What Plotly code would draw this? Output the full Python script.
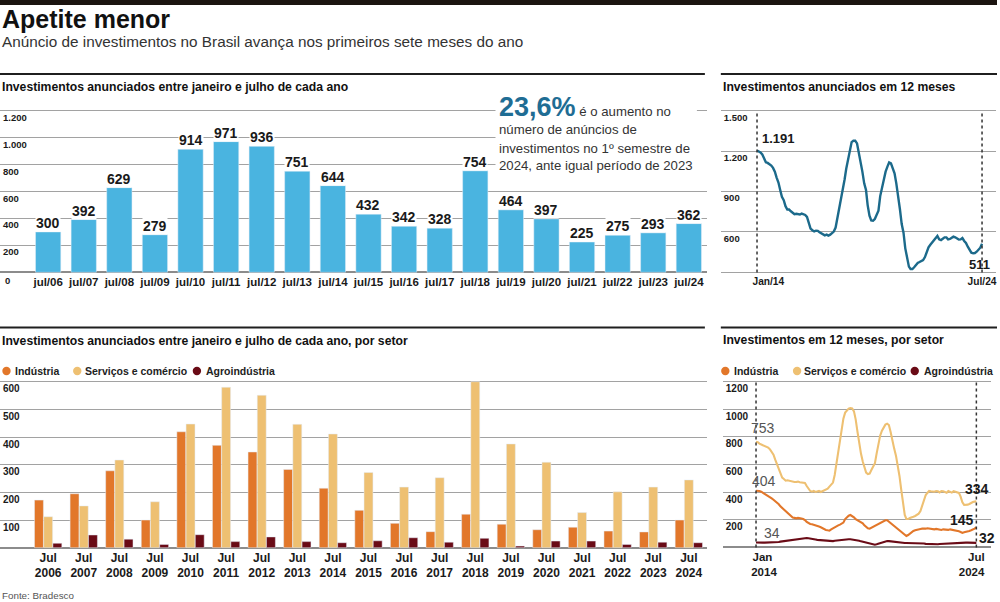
import plotly.graph_objects as go
import pandas as pd

W, H = 1000, 602
NARROW = "Liberation Sans"
SANS = "Liberation Sans"
NB = "\u00a0"

# ---------------- data ----------------
rotulos_ano = ["jul/06", "jul/07", "jul/08", "jul/09", "jul/10", "jul/11", "jul/12",
               "jul/13", "jul/14", "jul/15", "jul/16", "jul/17", "jul/18", "jul/19",
               "jul/20", "jul/21", "jul/22", "jul/23", "jul/24"]
total = [300, 392, 629, 279, 914, 971, 936, 751, 644, 432, 342, 328, 754, 464, 397, 225, 275, 293, 362]

rotulos_setor = ["Jul<br>2006", "Jul<br>2007", "Jul<br>2008", "Jul<br>2009", "Jul<br>2010",
                 "Jul<br>2011", "Jul<br>2012", "Jul<br>2013", "Jul<br>2014", "Jul<br>2015",
                 "Jul<br>2016", "Jul<br>2017", "Jul<br>2018", "Jul<br>2019", "Jul<br>2020",
                 "Jul<br>2021", "Jul<br>2022", "Jul<br>2023", "Jul<br>2024"]
industria = [172, 195, 278, 100, 419, 370, 346, 283, 215, 135, 88, 58, 121, 85, 65, 74, 60, 57, 100]
servicos = [112, 151, 317, 166, 447, 580, 551, 446, 411, 272, 219, 253, 600, 375, 309, 127, 202, 219, 245]
agro = [16, 46, 31, 12, 47, 22, 39, 22, 18, 25, 36, 20, 34, 6, 24, 24, 12, 20, 18]

meses = pd.date_range("2014-01-01", "2024-07-01", freq="MS")

anunciados_12m = [
    1205, 1200, 1190, 1175, 1152, 1117, 1112, 1104, 1092, 1075,
    1047, 1003, 966, 909, 859, 834, 790, 765, 765, 752,
    740, 730, 733, 728, 728, 735, 730, 725, 710, 661,
    623, 611, 603, 608, 606, 596, 586, 576, 573, 578,
    571, 578, 588, 601, 631, 698, 780, 840, 919, 989,
    1068, 1137, 1212, 1267, 1277, 1277, 1257, 1195, 1129, 1047,
    960, 910, 798, 719, 684, 682, 694, 728, 756, 865,
    930, 984, 1047, 1084, 1116, 1109, 1071, 1034, 960, 873,
    767, 657, 593, 476, 394, 340, 322, 322, 335, 352,
    367, 374, 379, 389, 411, 451, 483, 503, 518, 533,
    555, 568, 543, 538, 548, 558, 558, 543, 546, 555,
    563, 558, 548, 541, 543, 553, 531, 516, 488, 464,
    444, 439, 441, 451, 466, 481, 511]

servicos_12m = [
    765, 761, 751, 746, 741, 732, 727, 722, 710, 691,
    671, 635, 599, 565, 529, 505, 495, 483, 486, 483,
    476, 478, 473, 473, 476, 471, 469, 471, 466, 444,
    423, 408, 403, 408, 401, 406, 408, 401, 406, 411,
    415, 425, 440, 452, 469, 524, 609, 700, 782, 869,
    932, 976, 995, 1005, 1009, 1007, 985, 927, 838, 753,
    679, 621, 572, 541, 531, 534, 560, 582, 609, 681,
    753, 809, 845, 869, 889, 896, 886, 833, 766, 715,
    664, 597, 517, 420, 312, 234, 205, 205, 213, 220,
    222, 227, 234, 244, 263, 299, 348, 379, 394, 408,
    406, 403, 403, 408, 406, 398, 408, 406, 401, 396,
    408, 401, 396, 406, 403, 401, 394, 367, 326, 307,
    307, 309, 314, 324, 328, 331, 334]

industria_12m = [
    410, 411, 408, 403, 396, 386, 377, 372, 365, 355,
    345, 336, 326, 312, 297, 285, 273, 258, 246, 234,
    225, 215, 213, 210, 213, 213, 208, 205, 198, 184,
    176, 169, 167, 164, 159, 157, 150, 145, 138, 130,
    126, 123, 121, 130, 138, 147, 155, 159, 164, 169,
    179, 205, 220, 229, 234, 227, 217, 203, 196, 191,
    184, 174, 159, 147, 138, 135, 142, 147, 155, 162,
    169, 176, 181, 188, 196, 196, 186, 169, 159, 150,
    140, 130, 121, 109, 99, 92, 82, 89, 101, 111,
    118, 123, 128, 130, 133, 135, 133, 135, 138, 135,
    133, 130, 130, 133, 130, 126, 126, 130, 128, 123,
    126, 130, 128, 126, 123, 121, 116, 111, 104, 109,
    111, 116, 118, 123, 128, 135, 145]

agro_12m = [
    35, 36, 36, 35, 34, 34,
    34, 34, 34, 35, 34, 34, 36, 38, 41, 43, 44, 46, 50, 51, 53,
    55, 58, 60, 62, 63, 65, 67, 68, 67, 65, 64, 63, 58, 56, 54,
    53, 50, 48, 46, 44, 43, 43, 44, 45, 48, 50, 51, 51, 53, 53,
    55, 57, 58, 58, 57, 56, 53, 51, 48, 43, 40, 36, 31, 28, 26,
    24, 21, 19, 22, 26, 31, 36, 39, 41, 46, 45, 43, 41, 38, 36,
    34, 34, 34, 31, 31, 31, 31, 29, 29, 29, 29, 29, 29, 28, 27,
    27, 25, 24, 24, 23, 22, 22, 22, 22, 24, 25, 27, 27, 28, 29,
    29, 30, 31, 31, 31, 31, 31, 32, 34, 34, 34, 33, 33, 33, 33,
    32]

ticks_12m = [300, 600, 900, 1200, 1500]
ticks_12m_txt = ["", "600", "900", "1.200", "1.500"]
ticks_total = [0, 200, 400, 600, 800, 1000, 1200]
ticks_total_txt = ["", "200", "400", "600", "800", "1.000", "1.200"]
ticks_setor = [0, 100, 200, 300, 400, 500, 600]
ticks_setor_txt = ["", "100", "200", "300", "400", "500", "600"]
ticks_setor12 = [0, 200, 400, 600, 800, 1000, 1200]
ticks_setor12_txt = ["", "200", "400", "600", "800", "1000", "1200"]

for s in (anunciados_12m, servicos_12m, industria_12m, agro_12m):
    assert len(s) == len(meses), len(s)

# ---------------- style ----------------
AZUL = "#4ab4e0"
TEAL = "#1c6a8b"
DESTAQUE = "#1f6d94"
LARANJA = "#e2772a"
AREIA = "#eec072"
VINHO = "#6a0b16"
GRADE = "#a2a2a2"
TXT = "#1a1a1a"


def fx(p):
    return p / W


def fy(p):
    return 1 - p / H


def date_range_px(px_left, px_right, px_a, px_b, date_a, date_b):
    a, b = pd.Timestamp(date_a), pd.Timestamp(date_b)
    per_px = (b - a) / (px_b - px_a)
    return [(a + per_px * (px_left - px_a)).isoformat(),
            (a + per_px * (px_right - px_a)).isoformat()]


fig = go.Figure()

fig.add_trace(go.Bar(x=rotulos_ano, y=total, marker_color=AZUL, width=0.71,
                     xaxis="x", yaxis="y", hoverinfo="skip"))
fig.add_trace(go.Scatter(x=meses, y=anunciados_12m, mode="lines",
                         line=dict(color=TEAL, width=2.4), xaxis="x2", yaxis="y2",
                         hoverinfo="skip"))
for nome, vals, cor in [("Indústria", industria, LARANJA),
                        ("Serviços e comércio", servicos, AREIA),
                        ("Agroindústria", agro, VINHO)]:
    fig.add_trace(go.Bar(x=rotulos_setor, y=vals, name=nome, marker_color=cor,
                         xaxis="x3", yaxis="y3", hoverinfo="skip"))
for nome, vals, cor in [("Agroindústria", agro_12m, VINHO),
                        ("Indústria", industria_12m, LARANJA),
                        ("Serviços e comércio", servicos_12m, AREIA)]:
    fig.add_trace(go.Scatter(x=meses, y=vals, name=nome, mode="lines",
                             line=dict(color=cor, width=2.1), xaxis="x4", yaxis="y4",
                             hoverinfo="skip"))

ygrid = dict(showgrid=True, gridcolor=GRADE, gridwidth=1.2, zeroline=True,
             zerolinecolor="#8c8c8c", zerolinewidth=1.5, ticks="", showline=False,
             ticklabelposition="inside bottom", fixedrange=True)
xbase = dict(showgrid=False, zeroline=False, ticks="", showline=False, fixedrange=True,
             tickangle=0)

cat_range = [-1.353, 18.507]

fig.update_layout(
    width=W, height=H, autosize=False,
    margin=dict(l=0, r=0, t=0, b=0),
    paper_bgcolor="white", plot_bgcolor="white",
    showlegend=False, barmode="group", bargap=0.224, bargroupgap=0.03,
    hovermode=False,
    xaxis=dict(domain=[0.0, 0.709], type="category", range=cat_range, anchor="y",
               tickfont=dict(family=NARROW, size=11.5, color=TXT, weight="bold"), **xbase),
    yaxis=dict(domain=[fy(273.65), fy(109.46)], range=[-10, 1210], anchor="x",
               tickvals=ticks_total, ticktext=ticks_total_txt,
               tickfont=dict(family=SANS, size=9.5, color=TXT, weight="bold"), **ygrid),
    xaxis2=dict(domain=[fx(723), fx(999)], type="date", anchor="y2",
                range=date_range_px(723, 999, 759.3, 985, "2014-01-01", "2024-07-01"),
                tickvals=[meses[0], meses[-1]], ticktext=[NB * 8 + "Jan/14", "Jul/24"],
                tickfont=dict(family=NARROW, size=10.2, color=TXT, weight="bold"), **xbase),
    yaxis2=dict(domain=[fy(273.34), fy(109.46)], range=[290, 1510], anchor="x2",
                tickvals=ticks_12m, ticktext=ticks_12m_txt,
                tickfont=dict(family=SANS, size=9.5, color=TXT, weight="bold"), **ygrid),
    xaxis3=dict(domain=[0.0, 0.709], type="category", range=cat_range, anchor="y3",
                tickfont=dict(family=SANS, size=12, color=TXT, weight="bold"), **xbase),
    yaxis3=dict(domain=[fy(548.81), fy(380.59)], range=[-4, 604], anchor="x3",
                tickvals=ticks_setor, ticktext=ticks_setor_txt,
                tickfont=dict(family=SANS, size=10, color=TXT, weight="bold"), **ygrid),
    xaxis4=dict(domain=[fx(725), fx(994)], type="date", anchor="y4",
                range=date_range_px(725, 994, 758.3, 979.3, "2014-01-01", "2024-07-01"),
                tickvals=[meses[0], meses[-1]],
                ticktext=[NB * 4 + "Jan<br>" + NB * 5 + "2014", "Jul<br>2024" + NB * 3],
                tickfont=dict(family=SANS, size=11.5, color=TXT, weight="bold"), **xbase),
    yaxis4=dict(domain=[fy(548.4), fy(380.6)], range=[-8, 1208], anchor="x4",
                tickvals=ticks_setor12, ticktext=ticks_setor12_txt,
                tickfont=dict(family=SANS, size=10, color=TXT, weight="bold"), **ygrid),
)

shapes = []
# top heavy bar
shapes.append(dict(type="rect", xref="paper", yref="paper", x0=0, x1=1, y0=fy(5), y1=1,
                   fillcolor="#1b1410", line=dict(width=0)))
# section rules
for y in (74, 327.5):
    for xa, xb in ((0, 707), (723, 1000)):
        shapes.append(dict(type="line", xref="paper", yref="paper", x0=fx(xa), x1=fx(xb),
                           y0=fy(y), y1=fy(y), line=dict(color="#1f1f1f", width=2)))
# white area behind the highlight text
shapes.append(dict(type="rect", xref="paper", yref="paper", x0=fx(497), x1=fx(699),
                   y0=fy(124), y1=fy(95), fillcolor="white", line=dict(width=0), layer="above"))
shapes.append(dict(type="rect", xref="paper", yref="paper", x0=fx(497), x1=fx(712),
                   y0=fy(182), y1=fy(124), fillcolor="white", line=dict(width=0), layer="above"))
# dotted reference lines
for d in (meses[0], meses[-1]):
    shapes.append(dict(type="line", xref="x2", yref="paper", x0=d, x1=d, y0=fy(272.5), y1=fy(110.5),
                       line=dict(color="#333333", width=1.5, dash="dot")))
    shapes.append(dict(type="line", xref="x4", yref="paper", x0=d, x1=d, y0=fy(547.5), y1=fy(382),
                       line=dict(color="#333333", width=1.5, dash="dot")))
# legend dots
r = 4.2
for cx, cor in ((6.5, LARANJA), (77.5, AREIA), (197.5, VINHO),
                (727.5, LARANJA), (799.5, AREIA), (917.5, VINHO)):
    shapes.append(dict(type="circle", xref="paper", yref="paper",
                       x0=fx(cx - r), x1=fx(cx + r), y0=fy(371 + r), y1=fy(371 - r),
                       fillcolor=cor, line=dict(width=0)))
fig.update_layout(shapes=shapes)

ann = []


def txt(x, y, text, size, family=SANS, color=TXT, weight="normal", xanchor="left",
        yanchor="middle", bg=None):
    d = dict(xref="paper", yref="paper", x=fx(x), y=fy(y), text=text, showarrow=False,
             xanchor=xanchor, yanchor=yanchor, align="left",
             font=dict(family=family, size=size, color=color, weight=weight), borderpad=0)
    if bg:
        d["bgcolor"] = bg
    ann.append(d)


txt(1, 19, "Apetite menor", 25, SANS, "#111111", "bold")
txt(1, 41, "Anúncio de investimentos no Brasil avança nos primeiros sete meses do ano",
    15.3, NARROW, "#333333")
txt(1, 87, "Investimentos anunciados entre janeiro e julho de cada ano", 12.2, NARROW, "#111111", "bold")
txt(724, 87, "Investimentos anunciados em 12 meses", 12.2, NARROW, "#111111", "bold")
txt(1, 341, "Investimentos anunciados entre janeiro e julho de cada ano, por setor", 12.2, NARROW,
    "#111111", "bold")
txt(724, 340, "Investimentos em 12 meses, por setor", 12.2, NARROW, "#111111", "bold")

# zero label of the top-left axis (sits below the baseline, outside the plot area)
ann.append(dict(xref="paper", yref="y", x=fx(4), y=0, text="0", showarrow=False,
                xanchor="left", yanchor="top", yshift=-2, borderpad=0,
                font=dict(family=SANS, size=9.5, color=TXT, weight="bold")))

# highlight
txt(499, 107, '<span style="font-size:27px;font-weight:bold;color:'
    + DESTAQUE + '">23,6%</span> é o aumento no', 13.2, NARROW, "#333333")
txt(499, 130, "número de anúncios de", 13.2, NARROW, "#333333")
txt(499, 148, "investimentos no 1º semestre de", 13.2, NARROW, "#333333")
txt(499, 165.5, "2024, ante igual período de 2023", 13.2, NARROW, "#333333")

# legends
for x, t in ((14, "Indústria"), (84.5, "Serviços e comércio"), (206, "Agroindústria"),
             (735, "Indústria"), (805.5, "Serviços e comércio"), (926, "Agroindústria")):
    txt(x, 371, t, 10.5, SANS, "#222222", "bold")

# line labels
txt(781, 138, "1.191", 13, SANS, TXT, "bold", xanchor="center")
txt(982, 264, "511", 13, SANS, TXT, "bold", xanchor="center")
txt(765, 428, "753", 14, SANS, "#555555", xanchor="center")
txt(766, 481, "404", 14, SANS, "#555555", xanchor="center")
txt(774, 533, "34", 14, SANS, "#555555", xanchor="center")
txt(980, 489, "334", 14, SANS, TXT, "bold", xanchor="center")
txt(965, 520, "145", 14, SANS, TXT, "bold", xanchor="center")
txt(990, 538, "32", 14, SANS, TXT, "bold", xanchor="center")

txt(1, 595, "Fonte: Bradesco", 9.8, NARROW, "#555555")

# bar value labels
for lab, v in zip(rotulos_ano, total):
    ann.append(dict(xref="x", yref="y", x=lab, y=v, text=str(v), showarrow=False,
                    xanchor="center", yanchor="bottom", bgcolor="white", borderpad=0,
                    font=dict(family=SANS, size=14, color=TXT, weight="bold")))

fig.update_layout(annotations=ann)

fig.write_html("out.html", config={"displayModeBar": False},
               post_script="document.body.style.margin='0';"
               "document.body.style.overflow='hidden';")
